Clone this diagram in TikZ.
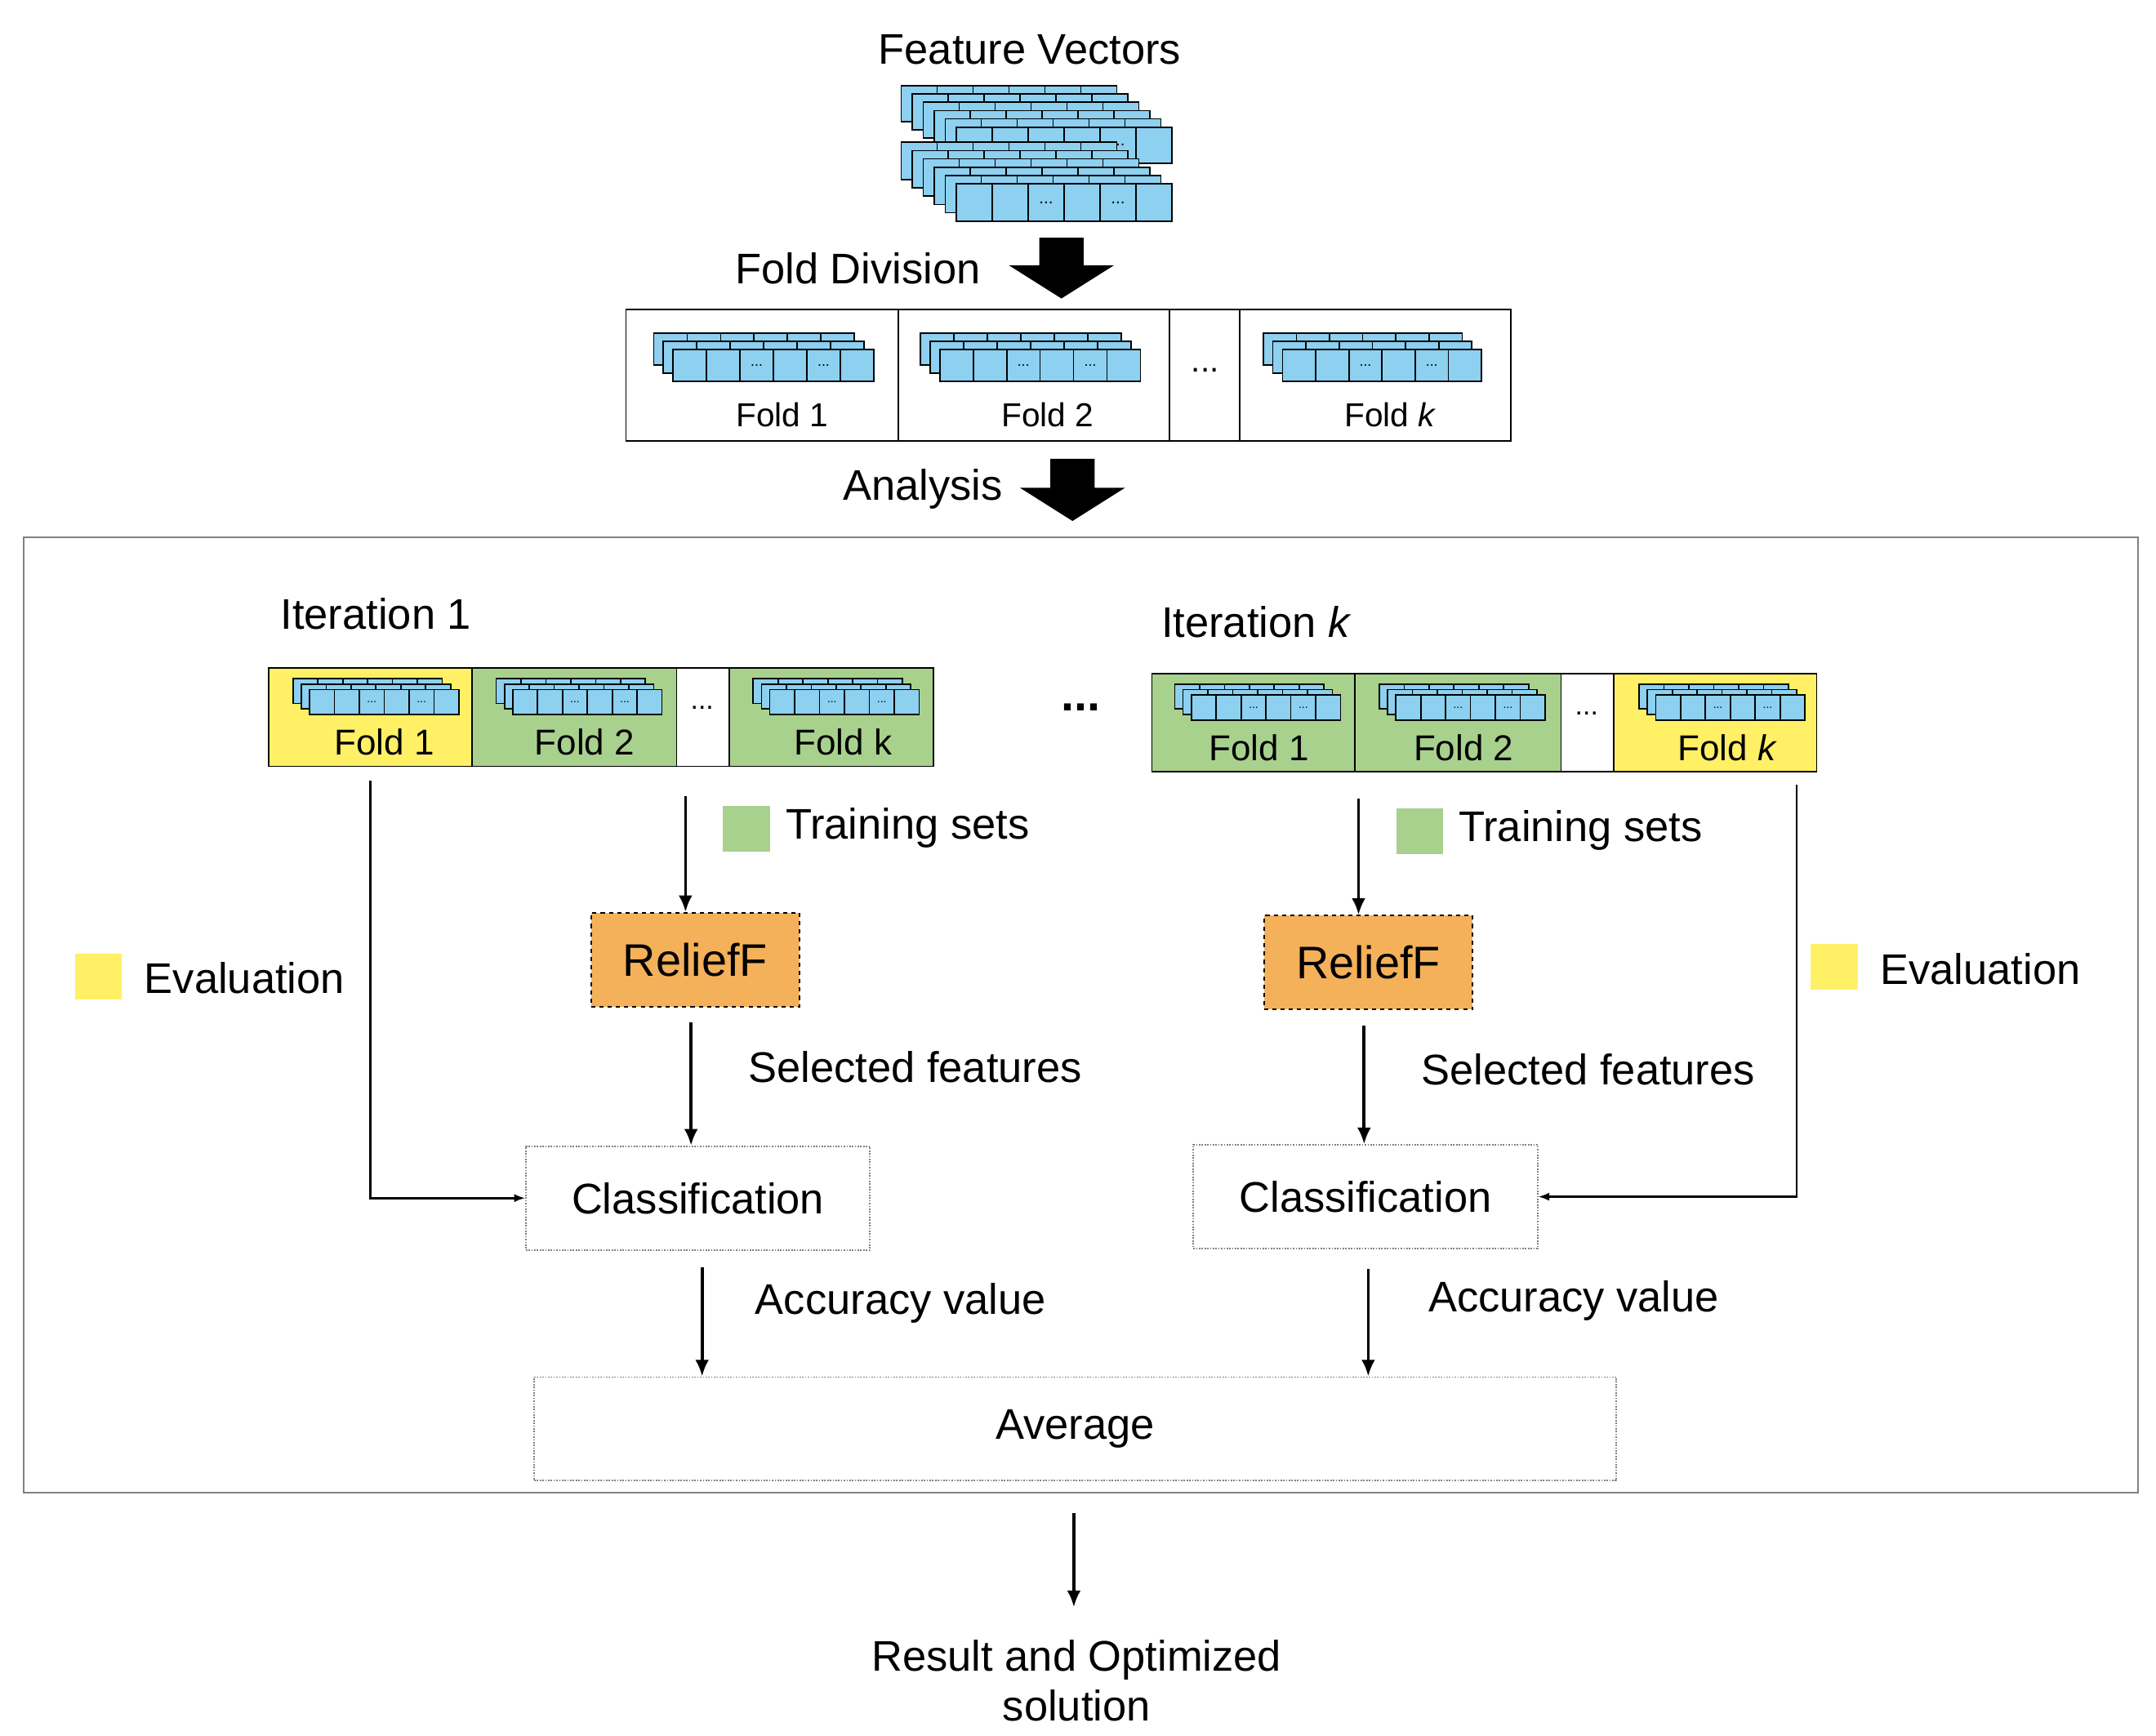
\documentclass[tikz,border=0pt]{standalone}
\usepackage{fontspec}
\setmainfont{Liberation Sans}
\usetikzlibrary{arrows.meta}
\definecolor{cellblue}{RGB}{141,208,240}
\definecolor{evalyellow}{RGB}{255,240,102}
\definecolor{traingreen}{RGB}{169,209,142}
\definecolor{relieforange}{RGB}{244,177,90}
\tikzset{>={Latex[length=12pt,width=10pt]}}
\tikzset{
  cell/.style={draw=black, line width=1pt, fill=cellblue},
  arr/.style={->, line width=2.2pt},
  thinarr/.style={-{Latex[length=8pt,width=6pt]}, line width=1.5pt},
  foldcell/.style={draw=black, line width=1pt, anchor=north west, inner sep=0pt},
  dotbox/.style={draw=gray, densely dotted, line width=1pt, anchor=north west, inner sep=0pt, font=\fontsize{31}{36}\selectfont},
  relief/.style={draw=black, dashed, line width=1.2pt, fill=relieforange, anchor=north west, inner sep=0pt, font=\fontsize{33}{38}\selectfont},
  lbl/.style={font=\fontsize{31}{36}\selectfont},
  key/.style={minimum width=34pt, minimum height=33pt, inner sep=0pt, anchor=north west}
}
% one row of six cells: x y cellwidth height
\newcommand\vrow[4]{%
  \foreach \c in {0,...,5} {\pgfmathsetmacro\xx{#1+\c*#3}
    \draw[cell] (\xx,#2) rectangle ++(#3,#4);}
  \pgfmathsetmacro\xa{#1+2.5*#3}\pgfmathsetmacro\xb{#1+4.5*#3}\pgfmathsetmacro\ym{#2+0.5*#4}
  \pgfmathsetmacro\fs{#4/2.2}
  \node[inner sep=0pt, font=\fontsize{\fs}{\fs}\selectfont] at (\xa,\ym) {...};
  \node[inner sep=0pt, font=\fontsize{\fs}{\fs}\selectfont] at (\xb,\ym) {...};}
% stacked rows, given by the front row: x y cellwidth height dx dy layers
\newcommand\vstack[7]{%
  \foreach \i in {1,...,#7} {\pgfmathsetmacro\bx{#1-(#7-\i)*#5}\pgfmathsetmacro\by{#2-(#7-\i)*#6}
    \vrow{\bx}{\by}{#3}{#4}}}
\newcommand\bigarrow[3]{% x top bottom
  \fill (#1-16,#2) -- (#1+16,#2) -- (#1+16,#3-24) -- (#1+38,#3-24) -- (#1,#3) -- (#1-38,#3-24) -- (#1-16,#3-24) -- cycle;}
\begin{document}
\begin{tikzpicture}[x=1pt,y=-1pt]
\useasboundingbox (0,0) rectangle (1560,1256);
% input
\node[lbl] (fv) at (745,36) {Feature Vectors};
\vstack{692}{92}{26}{26}{8}{6}{6}
\vstack{692}{133}{26}{27}{8}{6}{6}
\node[lbl, anchor=east] (fd) at (713,194) {Fold Division};
\bigarrow{768}{172}{216}
% folds
\draw[line width=1pt] (453,224) rectangle (1093,319);
\foreach \x in {650,846,897} \draw[line width=1pt] (\x,224) -- (\x,319);
\vstack{487}{253}{24.2}{23}{7}{6}{3}
\vstack{680}{253}{24.2}{23}{7}{6}{3}
\vstack{928}{253}{24}{23}{7}{6}{3}
\node[font=\fontsize{24}{28}\selectfont] (f1) at (566,300) {Fold 1};
\node[font=\fontsize{24}{28}\selectfont] (f2) at (758,300) {Fold 2};
\node[font=\fontsize{24}{28}\selectfont] (fdots) at (872,268) {...};
\node[font=\fontsize{24}{28}\selectfont] (fk) at (1006,300) {Fold \textit{k}};
\node[lbl, anchor=east] (an) at (729,354) {Analysis};
\bigarrow{776}{332}{377}
% analysis frame
\draw[gray, line width=1.2pt] (17,389) rectangle (1547,1080);
% iteration 1
\node[lbl] (it1) at (272,444) {Iteration 1};
\node[foldcell, fill=evalyellow, minimum width=147pt, minimum height=71pt] (a1) at (194,483) {};
\node[foldcell, fill=traingreen, minimum width=148pt, minimum height=71pt] (a2) at (341,483) {};
\node[foldcell, fill=white, minimum width=38pt, minimum height=71pt] (a3) at (489,483) {};
\node[foldcell, fill=traingreen, minimum width=148pt, minimum height=71pt] (a4) at (527,483) {};
\vstack{224}{499}{18}{18}{6}{4}{3}
\vstack{371}{499}{18}{18}{6}{4}{3}
\vstack{557}{499}{18}{18}{6}{4}{3}
\node[font=\fontsize{26}{30}\selectfont] at (278,537) {Fold 1};
\node[font=\fontsize{26}{30}\selectfont] at (423,537) {Fold 2};
\node[font=\fontsize{20}{24}\selectfont] at (508,512) {...};
\node[font=\fontsize{26}{30}\selectfont] at (610,537) {Fold k};
% iteration k
\node[lbl] (itk) at (909,450) {Iteration \textit{k}};
\node[foldcell, fill=traingreen, minimum width=147pt, minimum height=71pt] (b1) at (833,487) {};
\node[foldcell, fill=traingreen, minimum width=149pt, minimum height=71pt] (b2) at (980,487) {};
\node[foldcell, fill=white, minimum width=38pt, minimum height=71pt] (b3) at (1129,487) {};
\node[foldcell, fill=evalyellow, minimum width=147pt, minimum height=71pt] (b4) at (1167,487) {};
\vstack{862}{503}{18}{18}{6}{4}{3}
\vstack{1010}{503}{18}{18}{6}{4}{3}
\vstack{1198}{503}{18}{18}{6}{4}{3}
\node[font=\fontsize{26}{30}\selectfont] at (911,541) {Fold 1};
\node[font=\fontsize{26}{30}\selectfont] at (1059,541) {Fold 2};
\node[font=\fontsize{20}{24}\selectfont] at (1148,516) {...};
\node[font=\fontsize{26}{30}\selectfont] at (1250,541) {Fold \textit{k}};
\node[font=\bfseries\fontsize{34}{38}\selectfont] (mid) at (782,512) {...};
% training keys
\node[key, fill=traingreen] (g1) at (523,583) {};
\node[lbl, anchor=west] at (565,599) {Training sets};
\node[key, fill=traingreen] (g2) at (1010,585) {};
\node[lbl, anchor=west] at (1052,601) {Training sets};
\node[key, fill=evalyellow] (y1) at (54,690) {};
\node[lbl, anchor=west] at (101,708) {Evaluation};
\node[key, fill=evalyellow] (y2) at (1310,683) {};
\node[lbl, anchor=west] at (1357,701) {Evaluation};
% ReliefF and classification
\node[relief, minimum width=151pt, minimum height=68pt] (r1) at (427,660) {ReliefF};
\node[relief, minimum width=151pt, minimum height=68pt] (r2) at (914,662) {ReliefF};
\node[dotbox, minimum width=249pt, minimum height=75pt] (c1) at (380,829) {Classification};
\node[dotbox, minimum width=249pt, minimum height=75pt] (c2) at (863,828) {Classification};
\node[dotbox, minimum width=783pt, minimum height=75pt] (avg) at (386,996) {Average};
\node[lbl, align=center] (res) at (779,1216) {Result and Optimized\\solution};
% free ends of the arrows
\coordinate (t1) at (496,576); \coordinate (t2) at (983,578);
\coordinate (s1) at (500,740); \coordinate (s2) at (987,742);
\coordinate (p1) at (508,917); \coordinate (p2) at (990,918);
\coordinate (e1) at (268,565); \coordinate (e2) at (1300,568);
\coordinate (o1) at (777,1095); \coordinate (o2) at (777,1163);
\draw[arr] (t1) -- (t1 |- r1.north) ;
\draw[arr] (t2) -- (t2 |- r2.north);
\draw[arr] (s1) -- (s1 |- c1.north);
\draw[arr] (s2) -- (s2 |- c2.north);
\draw[arr] (p1) -- (p1 |- avg.north);
\draw[arr] (p2) -- (p2 |- avg.north);
\draw[arr] (o1) -- (o2);
\draw[thinarr] (e1) |- (c1.west);
\draw[thinarr] (e2) |- (c2.east);
\node[lbl, anchor=west] at (538,772) {Selected features};
\node[lbl, anchor=west] at (1025,774) {Selected features};
\node[lbl, anchor=west] at (543,943) {Accuracy value};
\node[lbl, anchor=west] at (1030,941) {Accuracy value};
\end{tikzpicture}
\end{document}
